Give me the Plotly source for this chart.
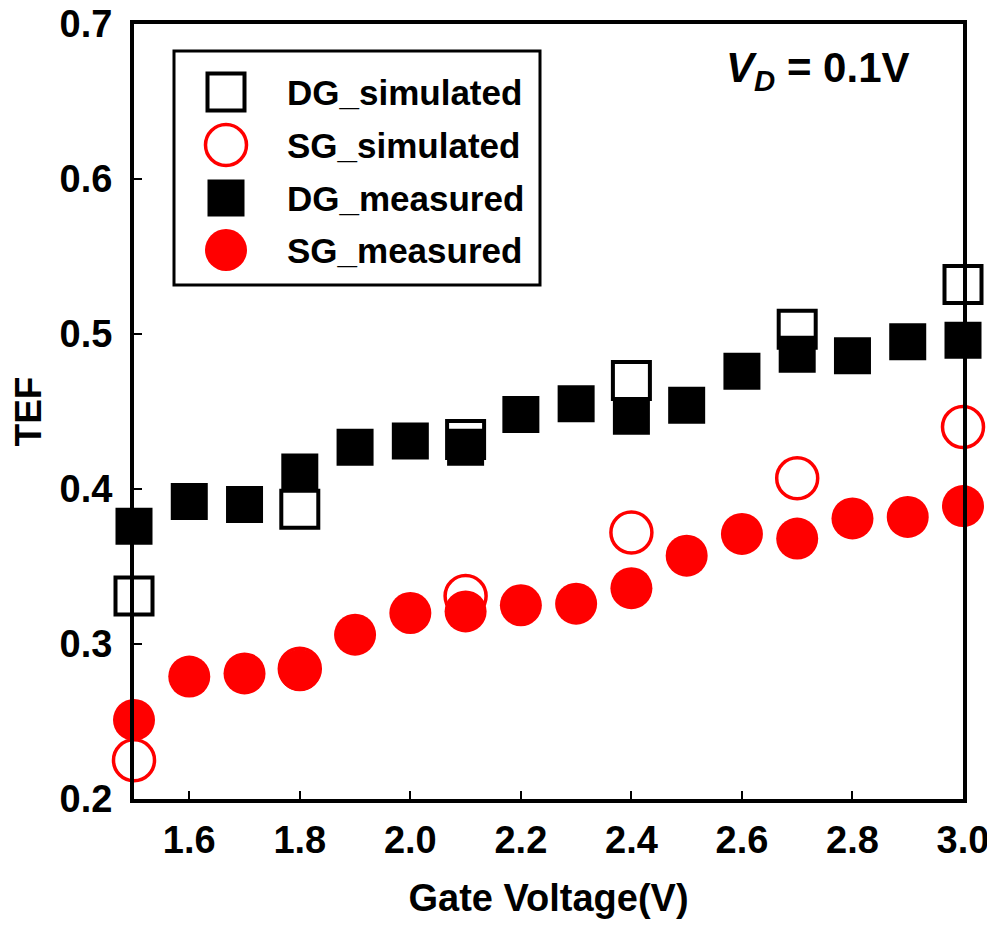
import plotly.graph_objects as go

# ---------------- data ----------------
gate_v_measured = [1.5, 1.6, 1.7, 1.8, 1.9, 2.0, 2.1, 2.2, 2.3, 2.4, 2.5, 2.6, 2.7, 2.8, 2.9, 3.0]
dg_measured = [0.376, 0.392, 0.390, 0.411, 0.427, 0.431, 0.427, 0.448, 0.455, 0.447,
               0.454, 0.476, 0.487, 0.486, 0.495, 0.496]
sg_measured = [0.251, 0.279, 0.281, 0.283, 0.306, 0.320, 0.321, 0.325, 0.326, 0.336,
               0.357, 0.371, 0.368, 0.381, 0.382, 0.389]

gate_v_sim = [1.5, 1.8, 2.1, 2.4, 2.7, 3.0]
dg_simulated = [0.331, 0.387, 0.432, 0.470, 0.503, 0.532]
sg_simulated = [0.225, 0.284, 0.331, 0.372, 0.407, 0.440]

series_names = ["DG_simulated", "SG_simulated", "DG_measured", "SG_measured"]
x_ticks = [1.6, 1.8, 2.0, 2.2, 2.4, 2.6, 2.8, 3.0]
y_ticks = [0.2, 0.3, 0.4, 0.5, 0.6, 0.7]
annotation_text = "<b><i>V</i><sub><i>D</i></sub> = 0.1V</b>"

# ---------------- styles ----------------
FONT = "Liberation Sans, Arial, sans-serif"
RED = "#FF0000"
styles = {
    "DG_simulated": dict(symbol="square", size=37, color="white", line=dict(color="black", width=4)),
    "SG_simulated": dict(symbol="circle", size=41, color="white", line=dict(color=RED, width=3.5)),
    "DG_measured": dict(symbol="square", size=37, color="black", line=dict(width=0)),
    "SG_measured": dict(symbol="circle", size=42, color=RED, line=dict(width=0)),
}
series_data = {
    "DG_simulated": (gate_v_sim, dg_simulated),
    "SG_simulated": (gate_v_sim, sg_simulated),
    "DG_measured": (gate_v_measured, dg_measured),
    "SG_measured": (gate_v_measured, sg_measured),
}

fig = go.Figure()
for name in series_names:
    xs, ys = series_data[name]
    fig.add_trace(go.Scatter(x=xs, y=ys, mode="markers", name=name, marker=styles[name],
                             cliponaxis=False, showlegend=False, hoverinfo="x+y+name"))

# page has an 8px body margin: the figure starts at (8, 8) in the window
OFF = 8
W, H = 995 - OFF, 931 - OFF
# plot area in window pixels
PL, PR, PT, PB = 134, 963, 24, 799

legend_x_marker = 226
legend_x_text = 285
legend_rows = [92, 145, 198, 250]
for name, yrow in zip(series_names, legend_rows):
    fig.add_trace(go.Scatter(x=[legend_x_marker], y=[yrow], xaxis="x2", yaxis="y2",
                             mode="markers", marker=styles[name], showlegend=False,
                             hoverinfo="skip"))
    fig.add_annotation(xref="x2", yref="y2", x=legend_x_text, y=yrow, text="<b>" + name + "</b>",
                       showarrow=False, xanchor="left", yanchor="middle",
                       font=dict(family=FONT, size=35, color="black"))
fig.add_shape(type="rect", xref="x2", yref="y2", x0=174, x1=540, y0=51, y1=285,
              line=dict(color="black", width=3), fillcolor="white", layer="below")

# white box behind the V_D label (covers the right axis line)
fig.add_shape(type="rect", xref="x2", yref="y2", x0=707, x1=969, y0=37, y1=107,
              line=dict(width=0), fillcolor="white", layer="above")
fig.add_annotation(xref="x2", yref="y2", x=818, y=70, text=annotation_text, showarrow=False,
                   xanchor="center", yanchor="middle",
                   font=dict(family=FONT, size=42, color="black"))

axis_common = dict(showgrid=False, zeroline=False, showline=True, linecolor="black", linewidth=4,
                   mirror=True, ticks="inside", ticklen=8, tickwidth=2, tickcolor="black",
                   automargin=False, ticklabeloverflow="allow",
                   tickfont=dict(family=FONT, size=38, color="black", weight="bold"))

fig.update_layout(
    width=W, height=H,
    margin=dict(l=PL - OFF, r=W - (PR - OFF), t=PT - OFF, b=H - (PB - OFF), autoexpand=False),
    paper_bgcolor="white", plot_bgcolor="white",
    xaxis=dict(range=[1.5, 3.0], tickvals=x_ticks, tickformat=".1f", ticklabelstandoff=4,
               title=dict(text="Gate Voltage(V)", standoff=26,
                          font=dict(family=FONT, size=38, color="black", weight="bold")),
               **axis_common),
    yaxis=dict(range=[0.2, 0.7], tickvals=y_ticks, tickformat=".1f", ticklabelstandoff=10,
               title=dict(text="TEF", standoff=22,
                          font=dict(family=FONT, size=37, color="black", weight="bold")),
               **axis_common),
    xaxis2=dict(overlaying="x", anchor="y2", range=[PL, PR], visible=False, fixedrange=True),
    yaxis2=dict(overlaying="y", anchor="x2", range=[PB, PT], visible=False, fixedrange=True),
    showlegend=False,
)

fig.write_html("out.html")
